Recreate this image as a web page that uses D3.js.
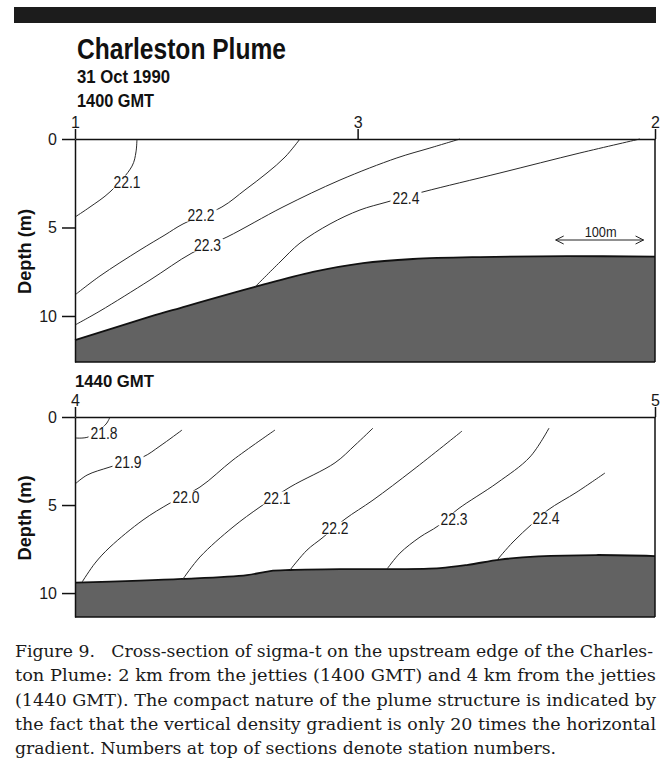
<!DOCTYPE html>
<html>
<head>
<meta charset="utf-8">
<script src="https://cdn.jsdelivr.net/npm/d3@7/dist/d3.min.js"></script>
<style>
  html, body { margin: 0; padding: 0; background: #ffffff; }
  svg { display: block; }
  .narrow { font-family: "Liberation Sans", Arial, Helvetica, sans-serif; }
  .caption { font-family: "DejaVu Serif", "Liberation Serif", serif; font-size: 17px; fill: #1a1a1a; white-space: pre; }
</style>
</head>
<body>
<script>
// ---- Section geometry (distance along section in metres, depth in metres) ----
const sectionLength = 660;

// 1400 GMT section
const topStations = ["1", "3", "2"];
const topStationDist = [0, 321.6, 660];
const topSeabed = [[0, 11.36], [85.3, 10.04], [119.5, 9.55], [204.8, 8.36], [270.8, 7.51], [327.7, 7.01], [384.6, 6.78], [460.9, 6.67], [560, 6.62], [660, 6.65]];
const topSigma = ["22.1", "22.2", "22.3", "22.4"];
const topContour221 = [[0, 4.41], [17.1, 3.84], [39.8, 2.99], [64.9, 1.53], [69.4, 0.73], [70.5, 0]];
const topContour222 = [[0, 8.81], [28.4, 7.74], [74.0, 6.27], [102.4, 5.42], [122.9, 4.80], [167.2, 3.84], [193.4, 2.88], [218.5, 1.92], [239.0, 1.02], [256.0, 0]];
const topContour223 = [[0, 10.51], [28.4, 9.72], [85.3, 7.97], [133.1, 6.44], [172.9, 5.54], [236.7, 3.84], [301.5, 2.32], [366.3, 1.07], [403.9, 0.51], [438.1, 0]];
const topContour224 = [[204.8, 8.36], [233.3, 6.95], [256.0, 5.88], [290.2, 4.80], [324.3, 4.01], [355.0, 3.56], [396.0, 2.99], [483.6, 1.92], [574.6, 0.79], [642.9, 0]];
const topLabelAt = [[59.2, 2.43], [143.4, 4.29], [150.8, 5.99], [376.6, 3.33]];

// 1440 GMT section
const bottomStations = ["4", "5"];
const bottomStationDist = [0, 660];
const bottomSeabed = [[0, 9.41], [121.8, 9.20], [195.7, 8.98], [221.9, 8.75], [244.7, 8.69], [301.5, 8.64], [356.2, 8.64], [415.3, 8.58], [447, 8.40], [483.6, 8.10], [526.9, 7.92], [592.9, 7.84], [660, 7.90]];
const bottomSigma = ["21.8", "21.9", "22.0", "22.1", "22.2", "22.3", "22.4"];
const bottomContour218 = [[0, 1.19], [14.8, 1.14], [35.3, 0.40], [39.8, 0]];
const bottomContour219 = [[0, 3.81], [13.7, 3.30], [39.8, 2.84], [77.4, 2.27], [96.7, 1.65], [121.8, 0.74]];
const bottomContour220 = [[8.0, 9.38], [22.8, 8.30], [39.8, 7.39], [77.4, 5.85], [108.1, 4.89], [142.2, 3.98], [179.8, 2.44], [227.6, 0.74]];
const bottomContour221 = [[122.9, 9.20], [142.2, 7.95], [179.8, 6.25], [210.5, 5.11], [244.7, 3.98], [295.9, 2.60], [318.6, 1.60], [339.1, 0.63]];
const bottomContour222 = [[244.7, 8.69], [264.0, 7.56], [281.1, 6.88], [307.2, 5.80], [339.1, 4.72], [384.6, 3.01], [440.4, 0.80]];
const bottomContour223 = [[355, 8.64], [369.8, 7.73], [392.6, 6.82], [413.1, 6.19], [435.8, 5.23], [480.2, 3.75], [517.7, 2.27], [539.4, 0.63]];
const bottomContour224 = [[480.2, 8.13], [498.4, 7.10], [520, 6.08], [538.2, 5.28], [571.2, 4.26], [603.1, 3.18]];
const bottomLabelAt = [[33, 0.91], [60.3, 2.56], [126.3, 4.55], [229.9, 4.60], [295.9, 6.31], [431.3, 5.80], [536, 5.74]];

const depthTicks = [0, 5, 10];
const scaleBar = { start: 547, length: 100, label: "100m" };

const captionLines = [
  "Figure 9.   Cross-section of sigma-t on the upstream edge of the Charles-",
  "ton Plume: 2 km from the jetties (1400 GMT) and 4 km from the jetties",
  "(1440 GMT). The compact nature of the plume structure is indicated by",
  "the fact that the vertical density gradient is only 20 times the horizontal",
  "gradient. Numbers at top of sections denote station numbers."
];

// ---- Drawing ----
const W = 666, H = 765;
const svg = d3.select("body").append("svg").attr("width", W).attr("height", H);

svg.append("rect").attr("x", 14).attr("y", 7).attr("width", 642).attr("height", 16).attr("fill", "#1c1c1c");

function boldText(txt, x, y, size, len) {
  svg.append("text").attr("class", "narrow")
    .attr("x", x).attr("y", y)
    .attr("font-size", size).attr("font-weight", "bold").attr("fill", "#111")
    .attr("textLength", len).attr("lengthAdjust", "spacingAndGlyphs")
    .text(txt);
}
boldText("Charleston Plume", 77, 59, 29, 209);
boldText("31 Oct 1990", 77, 83, 17.5, 93);
boldText("1400 GMT", 77, 107, 17.5, 77);
boldText("1440 GMT", 75, 387, 17, 79);

const x = d3.scaleLinear().domain([0, sectionLength]).range([75, 655]);
const line = d3.line().x(d => x(d[0])).curve(d3.curveCatmullRom.alpha(0.5));

function drawSection(cfg) {
  const y = d3.scaleLinear().domain([0, cfg.maxDepth]).range([cfg.top, cfg.bottom]);
  const g = svg.append("g");
  const ln = line.y(d => y(d[1]));

  // seabed
  const area = d3.area().x(d => x(d[0])).y0(y(cfg.maxDepth)).y1(d => y(d[1]))
    .curve(d3.curveCatmullRom.alpha(0.5));
  g.append("path").datum(cfg.seabed).attr("d", area).attr("fill", "#626262");
  g.append("path").datum(cfg.seabed).attr("d", ln).attr("fill", "none")
    .attr("stroke", "#111").attr("stroke-width", 1.8);

  // isopycnals
  g.selectAll("path.iso").data(cfg.contours).join("path").attr("class", "iso")
    .attr("d", d => ln(d)).attr("fill", "none").attr("stroke", "#2a2a2a").attr("stroke-width", 1);

  // contour labels
  cfg.sigma.forEach((s, i) => {
    const [lx, ly] = cfg.labelAt[i];
    const lg = g.append("g");
    const bg = lg.append("rect").attr("fill", "#fff");
    const t = lg.append("text").attr("class", "narrow")
      .attr("x", x(lx)).attr("y", y(ly)).attr("dy", "0.36em")
      .attr("text-anchor", "middle").attr("font-size", 16).attr("fill", "#1a1a1a")
      .attr("textLength", 27).attr("lengthAdjust", "spacingAndGlyphs")
      .text(s);
    const b = t.node().getBBox();
    bg.attr("x", b.x - 2).attr("y", y(ly) - 6.5).attr("width", b.width + 4).attr("height", 13);
  });

  // depth axis
  const ay = g.append("g").attr("class", "narrow").attr("transform", `translate(${x(0)},0)`)
    .call(d3.axisLeft(y).tickValues(depthTicks).tickSize(13).tickSizeOuter(0).tickPadding(5));
  ay.select(".domain").attr("stroke", "#111").attr("stroke-width", 1.5);
  ay.selectAll(".tick line").attr("stroke", "#111").attr("stroke-width", 1.5);
  ay.selectAll(".tick text").attr("font-size", 16).attr("fill", "#1a1a1a");

  // station axis along the surface
  const ax = g.append("g").attr("class", "narrow").attr("transform", `translate(0,${cfg.top})`)
    .call(d3.axisTop(x).tickValues(cfg.stationDist).tickFormat((d, i) => cfg.stations[i])
      .tickSize(10).tickSizeOuter(0).tickPadding(1.5));
  ax.select(".domain").attr("stroke", "#111").attr("stroke-width", 1.5);
  ax.selectAll(".tick line").attr("stroke", "#111").attr("stroke-width", 1.5);
  ax.selectAll(".tick text").attr("font-size", 16).attr("fill", "#1a1a1a");

  // right edge and bottom frame
  g.append("line").attr("x1", x(sectionLength)).attr("x2", x(sectionLength))
    .attr("y1", cfg.top).attr("y2", cfg.bottom).attr("stroke", "#111").attr("stroke-width", 1.5);
  g.append("line").attr("x1", x(0)).attr("x2", x(sectionLength))
    .attr("y1", cfg.bottom).attr("y2", cfg.bottom).attr("stroke", "#111").attr("stroke-width", 1.5);

  // y axis title
  svg.append("text").attr("class", "narrow")
    .attr("transform", `translate(31,${(cfg.top + cfg.bottom) / 2 + 1}) rotate(-90)`)
    .attr("text-anchor", "middle").attr("font-size", 18).attr("font-weight", "bold").attr("fill", "#111")
    .attr("textLength", 85).attr("lengthAdjust", "spacingAndGlyphs")
    .text("Depth (m)");
  return y;
}

drawSection({
  top: 139, bottom: 362, maxDepth: 12.6,
  seabed: topSeabed, sigma: topSigma,
  contours: [topContour221, topContour222, topContour223, topContour224],
  labelAt: topLabelAt, stations: topStations, stationDist: topStationDist
});

drawSection({
  top: 417, bottom: 617, maxDepth: 11.36,
  seabed: bottomSeabed, sigma: bottomSigma,
  contours: [bottomContour218, bottomContour219, bottomContour220, bottomContour221, bottomContour222, bottomContour223, bottomContour224],
  labelAt: bottomLabelAt, stations: bottomStations, stationDist: bottomStationDist
});

// horizontal scale bar
const sbY = 240, sx0 = x(scaleBar.start), sx1 = x(scaleBar.start + scaleBar.length);
const sb = svg.append("g").attr("stroke", "#222").attr("stroke-width", 1).attr("fill", "none");
sb.append("line").attr("x1", sx0).attr("x2", sx1).attr("y1", sbY).attr("y2", sbY);
sb.append("path").attr("d", `M${sx0 + 8},${sbY - 4}L${sx0},${sbY}L${sx0 + 8},${sbY + 4}`);
sb.append("path").attr("d", `M${sx1 - 8},${sbY - 4}L${sx1},${sbY}L${sx1 - 8},${sbY + 4}`);
svg.append("text").attr("class", "narrow").attr("x", (sx0 + sx1) / 2 + 1).attr("y", 237)
  .attr("text-anchor", "middle").attr("font-size", 15).attr("fill", "#1a1a1a")
  .attr("textLength", 32).attr("lengthAdjust", "spacingAndGlyphs")
  .text(scaleBar.label);

// caption
captionLines.forEach((txt, i) => {
  const last = i === captionLines.length - 1;
  svg.append("text").attr("class", "caption")
    .attr("x", 15).attr("y", 657 + i * 24.3)
    .attr("textLength", last ? 541 : (i === 0 ? 638 : 641)).attr("lengthAdjust", "spacingAndGlyphs")
    .text(txt);
});
</script>
</body>
</html>
